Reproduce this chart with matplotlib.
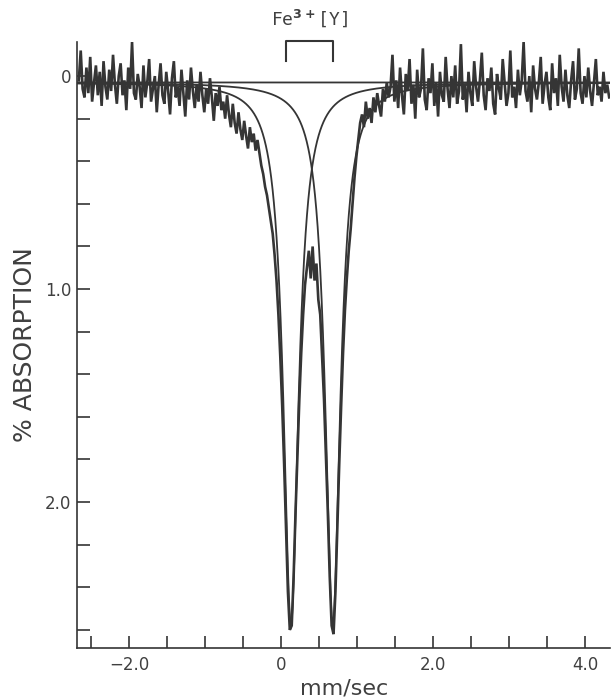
import numpy as np
import matplotlib
matplotlib.use("Agg")
import matplotlib.pyplot as plt

# ---------------- data ----------------
# velocity channels (mm/sec)
vel_start = -2.66
vel_step = 0.025

# % absorption per channel
absorb_left_base = [
    0.02, -0.12, 0.06, 0.10, -0.04, 0.08, -0.09, 0.12, 0.03, -0.05,
    0.09, -0.02, 0.14, -0.07, 0.05, 0.11, -0.03, 0.07, -0.10, 0.04,
    0.13, 0.00, -0.06, 0.09, 0.02, 0.16, -0.04, 0.06, -0.16, 0.08,
    0.11, -0.01, 0.05, 0.15, -0.05, 0.10, 0.03, -0.08, 0.12, 0.06,
    0.00, 0.17, 0.04, -0.06, 0.09, 0.13, -0.02, 0.07, 0.18, 0.01,
    -0.07, 0.10, 0.05, 0.14, -0.03, 0.08, 0.19, 0.02, 0.11, -0.04,
    0.07, 0.15, 0.04, 0.12, -0.02, 0.09, 0.17, 0.06, 0.13, 0.01,
    0.10, 0.21, 0.08, 0.14, 0.05, 0.16,
]
absorb_left_shoulder = [
    0.12, 0.20, 0.09, 0.18, 0.24, 0.13, 0.22, 0.27, 0.17, 0.25,
    0.30, 0.21, 0.28, 0.34, 0.24, 0.31, 0.27, 0.35, 0.30, 0.36,
]
absorb_left_wing = [
    0.42, 0.46, 0.52, 0.56, 0.62, 0.68, 0.74, 0.84, 0.96, 1.12,
    1.32, 1.55, 1.82, 2.12, 2.42, 2.60,
]
absorb_doublet = [
    2.58, 2.35, 2.05, 1.78, 1.52, 1.30, 1.12, 0.98, 0.90, 0.82,
    0.95, 0.80, 0.96, 0.88, 1.05, 1.12, 1.32, 1.52, 1.78, 2.05,
    2.35, 2.58, 2.62, 2.42, 2.12, 1.82, 1.55, 1.30, 1.10, 0.95,
    0.82, 0.72, 0.60, 0.48, 0.38, 0.30, 0.22,
]
absorb_right_shoulder = [
    0.18, 0.24, 0.12, 0.20, 0.15, 0.22, 0.10, 0.17, 0.08, 0.14,
    0.19, 0.06, 0.12, 0.03, 0.10,
]
absorb_right_base = [
    0.05, -0.10, 0.12, 0.02, 0.15, -0.04, 0.09, 0.18, -0.01, 0.07,
    -0.08, 0.13, 0.04, 0.20, -0.03, 0.10, 0.06, -0.13, 0.11, 0.16,
    0.01, 0.08, -0.06, 0.14, 0.03, 0.19, -0.02, 0.09, 0.12, -0.09,
    0.06, 0.15, 0.00, 0.10, -0.05, 0.13, 0.07, -0.15, 0.11, 0.04,
    0.17, -0.02, 0.08, 0.14, -0.07, 0.05, 0.12, 0.02, -0.11, 0.09,
    0.16, 0.01, 0.07, -0.04, 0.13, 0.18, -0.01, 0.06, 0.11, -0.08,
    0.03, 0.14, 0.08, -0.12, 0.10, 0.05, 0.15, -0.03, 0.09, 0.02,
    -0.16, 0.07, 0.12, 0.00, 0.17, -0.05, 0.06, 0.11, 0.03, -0.09,
    0.13, 0.04, -0.02, 0.10, 0.16, -0.06, 0.08, 0.01, 0.14, -0.10,
    0.05, 0.12, -0.03, 0.09, 0.15, 0.02, -0.07, 0.11, 0.06, -0.13,
    0.08, 0.13, 0.00, 0.10, -0.04, 0.07, 0.14, 0.03, -0.08, 0.09,
    0.05, 0.12, -0.02, 0.08, 0.04, 0.10,
]

# fitted Lorentzian doublet parameters
fit_baseline = 0.03
fit_centers = [0.13, 0.68]
fit_depths = [2.57, 2.57]
fit_hwhm = [0.12, 0.12]

# bracket marking the Fe3+[Y] doublet
bracket_pos = [0.07, 0.68]
bracket_label = "Fe$^{\\mathbf{3+}}$[Y]"

xticks_major = [-2.0, 0.0, 2.0, 4.0]
xtick_labels = ["\u22122.0", "0", "2.0", "4.0"]
yticks_major = [0.0, 1.0, 2.0]
ytick_labels = ["0", "1.0", "2.0"]

# ---------------- figure ----------------
absorb = np.array(absorb_left_base + absorb_left_shoulder + absorb_left_wing
                  + absorb_doublet + absorb_right_shoulder + absorb_right_base)
vel = vel_start + vel_step * np.arange(len(absorb))

ink = "#353535"
txt = "#404040"

fig = plt.figure(figsize=(6.13, 7.0), dpi=100)
ax = fig.add_axes([0.1256, 0.0743, 0.870, 0.8657])

xmin, xmax = -2.684, 4.33
ymin, ymax = -0.16, 2.685

# fits
xf = np.linspace(xmin, xmax, 2000)
ax.plot(xf, np.full_like(xf, fit_baseline), color=ink, lw=1.3, zorder=2)
for c, d, h in zip(fit_centers, fit_depths, fit_hwhm):
    ax.plot(xf, fit_baseline + (d - fit_baseline) / (1 + ((xf - c) / h) ** 2),
            color=ink, lw=1.3, zorder=2)

# measured spectrum
ax.plot(vel, absorb, color=ink, lw=1.9, zorder=3, solid_joinstyle="miter")

ax.set_xlim(xmin, xmax)
ax.set_ylim(ymax, ymin)

for s in ["top", "right"]:
    ax.spines[s].set_visible(False)
for s in ["left", "bottom"]:
    ax.spines[s].set_color(ink)
    ax.spines[s].set_linewidth(1.2)

ax.set_xticks(np.arange(-2.5, 4.01, 0.5), minor=True)
ax.set_xticks(xticks_major)
ax.set_xticklabels(xtick_labels)
ax.set_yticks(np.arange(0.0, 2.61, 0.2), minor=True)
ax.set_yticks(yticks_major)
ax.set_yticklabels(ytick_labels)

ax.tick_params(axis="both", which="both", direction="in", color=ink,
               width=1.2, length=9, labelcolor=txt, labelsize=12)
ax.tick_params(axis="x", which="both", pad=6)
ax.tick_params(axis="y", which="both", pad=4)

ax.set_xlabel("mm/sec", fontsize=16, color=txt, labelpad=3)
ax.set_ylabel("% ABSORPTION", fontsize=18, color=txt, labelpad=6)

# bracket and label above the doublet
ax.plot([bracket_pos[0], bracket_pos[0], bracket_pos[1], bracket_pos[1]],
        [-0.07, -0.163, -0.163, -0.07], color=ink, lw=1.5, clip_on=False)
ax.text(sum(bracket_pos) / 2, -0.22, bracket_label, ha="center", va="bottom",
        fontsize=13, color=txt, family="DejaVu Sans Mono")

fig.savefig("out.png", dpi=100, facecolor="white")
